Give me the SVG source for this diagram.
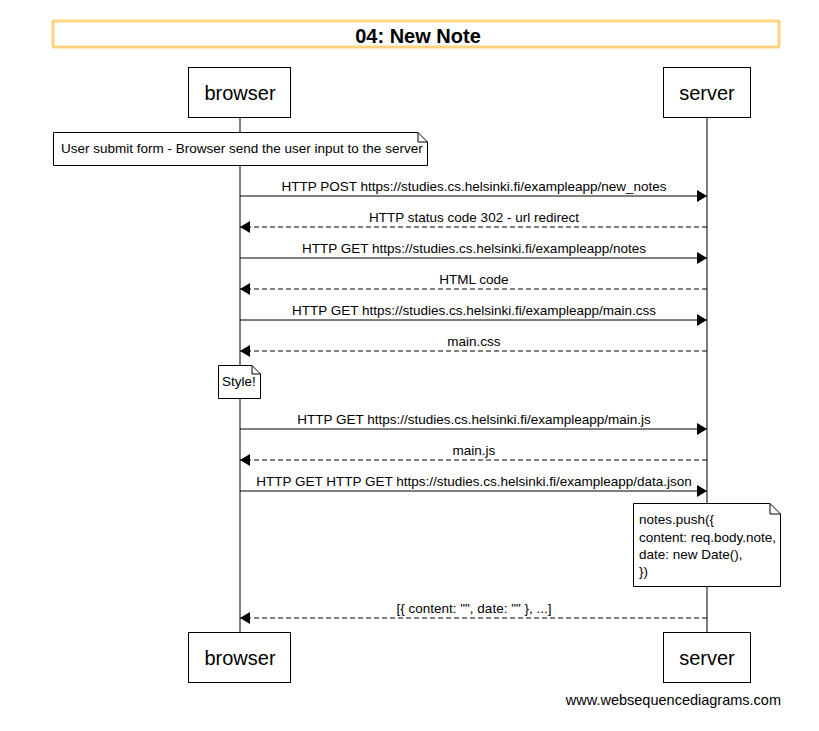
<svg xmlns="http://www.w3.org/2000/svg" width="819" height="731" viewBox="0 0 819 731">
<style>
text{font-family:"Liberation Sans",Arial,sans-serif;fill:#000}
.msg{font-size:13.5px;text-anchor:middle}
.part{font-size:20px;text-anchor:middle}
.box{fill:#fff;stroke:#000;stroke-width:1}
.life{stroke:#000;stroke-width:1}
.solid{stroke:#000;stroke-width:1;fill:none}
.dash{stroke:#000;stroke-width:1;fill:none;stroke-dasharray:5,3}
.note{fill:#fff;stroke:#000;stroke-width:1}
.nt{font-size:13.5px}
</style>
<defs>
<marker id="ah" viewBox="0 0 10 12" refX="10" refY="6" markerWidth="10" markerHeight="12" markerUnits="userSpaceOnUse" orient="auto">
<path d="M0,0 L10,6 L0,12 Z" fill="#000"/>
</marker>
</defs>
<rect width="819" height="731" fill="#fff"/>
<g id="title">
<rect x="53" y="21" width="726" height="26" fill="#fff" stroke="#ffd27f" stroke-width="3" rx="1"/>
<text x="418" y="43" font-size="20" font-weight="bold" text-anchor="middle">04: New Note</text>
</g>
<g id="lifelines">
<line class="life" x1="240" y1="117" x2="240" y2="632"/>
<line class="life" x1="707" y1="117" x2="707" y2="632"/>
</g>
<g id="browser-top"><rect class="box" x="188.5" y="67.5" width="102" height="50"/><text class="part" x="240" y="100">browser</text></g>
<g id="server-top"><rect class="box" x="663.5" y="67.5" width="87" height="50"/><text class="part" x="707" y="100">server</text></g>
<g id="browser-bottom"><rect class="box" x="188.5" y="632.5" width="102" height="50"/><text class="part" x="240" y="665">browser</text></g>
<g id="server-bottom"><rect class="box" x="663.5" y="632.5" width="87" height="50"/><text class="part" x="707" y="665">server</text></g>
<g id="note-submit">
<path class="note" d="M53.5,132.5 H418 L427.5,142 V165.5 H53.5 Z"/>
<path class="solid" d="M418,132.5 V142 H427.5"/>
<text class="nt" x="61" y="153">User submit form - Browser send the user input to the server</text>
</g>
<g id="note-style">
<path class="note" d="M218.5,365.5 H252 L260.5,374 V398.5 H218.5 Z"/>
<path class="solid" d="M252,365.5 V374 H260.5"/>
<text class="nt" x="222" y="386">Style!</text>
</g>
<g id="note-push">
<path class="note" d="M633.5,503.5 H770 L780.5,514 V586.5 H633.5 Z"/>
<path class="solid" d="M770,503.5 V514 H780.5"/>
<text class="nt" x="639" y="524">notes.push({</text>
<text class="nt" x="639" y="542">content: req.body.note,</text>
<text class="nt" x="639" y="559">date: new Date(),</text>
<text class="nt" x="639" y="576">})</text>
</g>
<g id="connectors">
<line class="solid" x1="240" y1="196" x2="707" y2="196" marker-end="url(#ah)"/>
<line class="dash" x1="707" y1="227" x2="240" y2="227" marker-end="url(#ah)"/>
<line class="solid" x1="240" y1="258" x2="707" y2="258" marker-end="url(#ah)"/>
<line class="dash" x1="707" y1="289" x2="240" y2="289" marker-end="url(#ah)"/>
<line class="solid" x1="240" y1="320" x2="707" y2="320" marker-end="url(#ah)"/>
<line class="dash" x1="707" y1="351" x2="240" y2="351" marker-end="url(#ah)"/>
<line class="solid" x1="240" y1="429" x2="707" y2="429" marker-end="url(#ah)"/>
<line class="dash" x1="707" y1="460" x2="240" y2="460" marker-end="url(#ah)"/>
<line class="solid" x1="240" y1="491" x2="707" y2="491" marker-end="url(#ah)"/>
<line class="dash" x1="707" y1="618" x2="240" y2="618" marker-end="url(#ah)"/>
<text class="msg" x="474" y="191">HTTP POST https://studies.cs.helsinki.fi/exampleapp/new_notes</text>
<text class="msg" x="474" y="222">HTTP status code 302 - url redirect</text>
<text class="msg" x="474" y="253">HTTP GET https://studies.cs.helsinki.fi/exampleapp/notes</text>
<text class="msg" x="474" y="284">HTML code</text>
<text class="msg" x="474" y="315">HTTP GET https://studies.cs.helsinki.fi/exampleapp/main.css</text>
<text class="msg" x="474" y="346">main.css</text>
<text class="msg" x="474" y="424">HTTP GET https://studies.cs.helsinki.fi/exampleapp/main.js</text>
<text class="msg" x="474" y="455">main.js</text>
<text class="msg" x="474" y="486">HTTP GET HTTP GET https://studies.cs.helsinki.fi/exampleapp/data.json</text>
<text class="msg" x="474" y="613">[{ content: "", date: "" }, ...]</text>
</g>
<text x="781" y="705" font-size="14.5" text-anchor="end">www.websequencediagrams.com</text>
</svg>
